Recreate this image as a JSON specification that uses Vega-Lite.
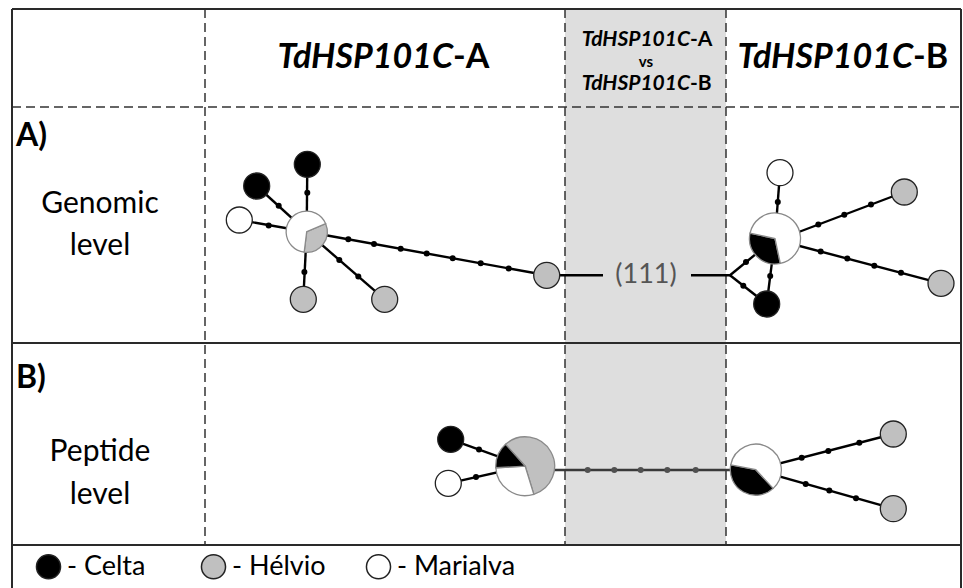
{
  "$schema": "https://vega.github.io/schema/vega-lite/v6.json",
  "width": 963,
  "height": 588,
  "padding": 0,
  "autosize": {"type": "none"},
  "background": "white",
  "config": {"view": {"stroke": null}, "font": "Lato"},
  "datasets": {
    "panels": [{"panel": "A vs B", "x0": 565, "x1": 726, "y0": 9, "y1": 545}],
    "grid": [
      {"kind": "frame", "x1": 12, "y1": 9, "x2": 961, "y2": 9},
      {"kind": "frame", "x1": 12, "y1": 9, "x2": 12, "y2": 588},
      {"kind": "frame", "x1": 961, "y1": 9, "x2": 961, "y2": 588},
      {"kind": "frame", "x1": 12, "y1": 343, "x2": 961, "y2": 343},
      {"kind": "frame", "x1": 12, "y1": 545, "x2": 961, "y2": 545},
      {"kind": "guide", "x1": 12, "y1": 107, "x2": 961, "y2": 107},
      {"kind": "guide", "x1": 205, "y1": 9, "x2": 205, "y2": 545},
      {"kind": "guide", "x1": 565, "y1": 9, "x2": 565, "y2": 545},
      {"kind": "guide", "x1": 726, "y1": 9, "x2": 726, "y2": 545}
    ],
    "links": [
      {"link": "GA0-GA1", "x1": 306.7, "y1": 231.7, "x2": 307.3, "y2": 164.3},
      {"link": "GA0-GA2", "x1": 306.7, "y1": 231.7, "x2": 256.7, "y2": 186},
      {"link": "GA0-GA3", "x1": 306.7, "y1": 231.7, "x2": 239.3, "y2": 220},
      {"link": "GA0-GA4", "x1": 306.7, "y1": 231.7, "x2": 303.3, "y2": 299.3},
      {"link": "GA0-GA5", "x1": 306.7, "y1": 231.7, "x2": 384.7, "y2": 299.3},
      {"link": "GA0-GA6", "x1": 306.7, "y1": 231.7, "x2": 546.7, "y2": 275.3},
      {"link": "GA6-J", "x1": 546.7, "y1": 275.3, "x2": 603, "y2": 275.3},
      {"link": "GA6-J", "x1": 691, "y1": 275.3, "x2": 730, "y2": 275.3},
      {"link": "J-GB0", "x1": 730, "y1": 275.3, "x2": 775, "y2": 238.3},
      {"link": "J-GB2", "x1": 730, "y1": 275.3, "x2": 766.7, "y2": 304},
      {"link": "GB2-GB0", "x1": 766.7, "y1": 304, "x2": 775, "y2": 238.3},
      {"link": "GB0-GB1", "x1": 775, "y1": 238.3, "x2": 780, "y2": 172.7},
      {"link": "GB0-GB3", "x1": 775, "y1": 241, "x2": 904.3, "y2": 192},
      {"link": "GB0-GB4", "x1": 775, "y1": 239.5, "x2": 941, "y2": 283.3},
      {"link": "PA0-PA1", "x1": 525.2, "y1": 466.2, "x2": 450.7, "y2": 439.3},
      {"link": "PA0-PA2", "x1": 525.2, "y1": 466.2, "x2": 448.3, "y2": 483.3},
      {"link": "PA0-PB0", "x1": 525.2, "y1": 470, "x2": 755.8, "y2": 470},
      {"link": "PB0-PB1", "x1": 755.8, "y1": 469.7, "x2": 893.3, "y2": 434},
      {"link": "PB0-PB2", "x1": 755.8, "y1": 469.7, "x2": 893.3, "y2": 508.7}
    ],
    "steps": [
      {"link": "GA0-GA1", "x": 307.3, "y": 192.7},
      {"link": "GA0-GA2", "x": 278.7, "y": 205.7},
      {"link": "GA0-GA3", "x": 268.7, "y": 225.5},
      {"link": "GA0-GA4", "x": 304.4, "y": 272},
      {"link": "GA0-GA5", "x": 339.3, "y": 260},
      {"link": "GA0-GA5", "x": 358.3, "y": 276.5},
      {"link": "GA0-GA6", "x": 348.3, "y": 239.3},
      {"link": "GA0-GA6", "x": 374, "y": 243.9},
      {"link": "GA0-GA6", "x": 400.7, "y": 248.8},
      {"link": "GA0-GA6", "x": 426.7, "y": 253.5},
      {"link": "GA0-GA6", "x": 452.7, "y": 258.2},
      {"link": "GA0-GA6", "x": 480.7, "y": 263.3},
      {"link": "GA0-GA6", "x": 508.7, "y": 268.4},
      {"link": "J-GB0", "x": 746, "y": 262},
      {"link": "J-GB2", "x": 743.3, "y": 285.7},
      {"link": "GB2-GB0", "x": 770.2, "y": 276},
      {"link": "GB0-GB1", "x": 777.8, "y": 202},
      {"link": "GB0-GB3", "x": 818.3, "y": 224.6},
      {"link": "GB0-GB3", "x": 844.3, "y": 214.7},
      {"link": "GB0-GB3", "x": 871, "y": 204.6},
      {"link": "GB0-GB4", "x": 820.7, "y": 251.6},
      {"link": "GB0-GB4", "x": 847.3, "y": 258.6},
      {"link": "GB0-GB4", "x": 874.3, "y": 265.7},
      {"link": "GB0-GB4", "x": 901, "y": 272.7},
      {"link": "PA0-PA1", "x": 479, "y": 449.5},
      {"link": "PA0-PA2", "x": 476, "y": 477},
      {"link": "PA0-PB0", "x": 587.7, "y": 470},
      {"link": "PA0-PB0", "x": 614.3, "y": 470},
      {"link": "PA0-PB0", "x": 640.7, "y": 470},
      {"link": "PA0-PB0", "x": 667.3, "y": 470},
      {"link": "PA0-PB0", "x": 695.7, "y": 470},
      {"link": "PB0-PB1", "x": 801.7, "y": 457.8},
      {"link": "PB0-PB1", "x": 828.3, "y": 450.9},
      {"link": "PB0-PB1", "x": 859.3, "y": 442.8},
      {"link": "PB0-PB2", "x": 805.7, "y": 483.9},
      {"link": "PB0-PB2", "x": 829.3, "y": 490.6},
      {"link": "PB0-PB2", "x": 856, "y": 498.3}
    ],
    "nodes": [
      {"node": "GA0", "x": 306.7, "y": 231.7, "N": 3, "hap": "Hélvio", "a0": 67, "a1": 187},
      {"node": "GA0", "x": 306.7, "y": 231.7, "N": 3, "hap": "Marialva", "a0": 187, "a1": 427},
      {"node": "GA1", "x": 307.3, "y": 164.3, "N": 1, "hap": "Celta", "a0": 0, "a1": 360},
      {"node": "GA2", "x": 256.7, "y": 186, "N": 1, "hap": "Celta", "a0": 0, "a1": 360},
      {"node": "GA3", "x": 239.3, "y": 220, "N": 1, "hap": "Marialva", "a0": 0, "a1": 360},
      {"node": "GA4", "x": 303.3, "y": 299.3, "N": 1, "hap": "Hélvio", "a0": 0, "a1": 360},
      {"node": "GA5", "x": 384.7, "y": 299.3, "N": 1, "hap": "Hélvio", "a0": 0, "a1": 360},
      {"node": "GA6", "x": 546.7, "y": 275.3, "N": 1, "hap": "Hélvio", "a0": 0, "a1": 360},
      {"node": "GB0", "x": 775, "y": 238.5, "N": 5, "hap": "Celta", "a0": 168, "a1": 282},
      {"node": "GB0", "x": 775, "y": 238.5, "N": 5, "hap": "Marialva", "a0": 282, "a1": 528},
      {"node": "GB1", "x": 780, "y": 172.7, "N": 1, "hap": "Marialva", "a0": 0, "a1": 360},
      {"node": "GB2", "x": 766.7, "y": 304, "N": 1, "hap": "Celta", "a0": 0, "a1": 360},
      {"node": "GB3", "x": 904.3, "y": 192, "N": 1, "hap": "Hélvio", "a0": 0, "a1": 360},
      {"node": "GB4", "x": 941, "y": 283.3, "N": 1, "hap": "Hélvio", "a0": 0, "a1": 360},
      {"node": "PA0", "x": 525.2, "y": 466.2, "N": 7, "hap": "Hélvio", "a0": 318, "a1": 523},
      {"node": "PA0", "x": 525.2, "y": 466.2, "N": 7, "hap": "Marialva", "a0": 163, "a1": 267},
      {"node": "PA0", "x": 525.2, "y": 466.2, "N": 7, "hap": "Celta", "a0": 267, "a1": 318},
      {"node": "PA1", "x": 450.7, "y": 439.3, "N": 1, "hap": "Celta", "a0": 0, "a1": 360},
      {"node": "PA2", "x": 448.3, "y": 483.3, "N": 1, "hap": "Marialva", "a0": 0, "a1": 360},
      {"node": "PB0", "x": 755.8, "y": 469.7, "N": 5, "hap": "Celta", "a0": 137, "a1": 281},
      {"node": "PB0", "x": 755.8, "y": 469.7, "N": 5, "hap": "Marialva", "a0": 281, "a1": 497},
      {"node": "PB1", "x": 893.3, "y": 434, "N": 1, "hap": "Hélvio", "a0": 0, "a1": 360},
      {"node": "PB2", "x": 893.3, "y": 508.7, "N": 1, "hap": "Hélvio", "a0": 0, "a1": 360}
    ],
    "labels": [
      {"role": "gene", "text": "TdHSP101C", "x": 453, "y": 58},
      {"role": "copy", "text": "-A", "x": 453, "y": 58},
      {"role": "gene", "text": "TdHSP101C", "x": 913, "y": 58},
      {"role": "copy", "text": "-B", "x": 913, "y": 58},
      {"role": "geneSmall", "text": "TdHSP101C", "x": 690, "y": 40},
      {"role": "copySmall", "text": "-A", "x": 690, "y": 40},
      {"role": "vs", "text": "vs", "x": 646, "y": 62},
      {"role": "geneSmall", "text": "TdHSP101C", "x": 690, "y": 84},
      {"role": "copySmall", "text": "-B", "x": 690, "y": 84},
      {"role": "tag", "text": "A)", "x": 16, "y": 136},
      {"role": "tag", "text": "B)", "x": 16, "y": 378},
      {"role": "level", "text": "Genomic", "x": 100, "y": 204},
      {"role": "level", "text": "level", "x": 100, "y": 246},
      {"role": "level", "text": "Peptide", "x": 100, "y": 452},
      {"role": "level", "text": "level", "x": 100, "y": 495},
      {"role": "mutations", "text": "(111)", "x": 646, "y": 275}
    ]
  },
  "layer": [
    {
      "data": {"name": "panels"},
      "mark": {"type": "rect", "color": "#dedede"},
      "encoding": {
        "x": {"field": "x0", "type": "quantitative", "scale": {"domain": [0, 963], "nice": false, "zero": false}, "axis": null},
        "x2": {"field": "x1"},
        "y": {"field": "y0", "type": "quantitative", "scale": {"domain": [0, 588], "nice": false, "zero": false, "reverse": true}, "axis": null},
        "y2": {"field": "y1"}
      }
    },
    {
      "data": {"name": "grid"},
      "transform": [{"filter": "datum.kind === 'guide'"}],
      "mark": {"type": "rule", "color": "#333333", "strokeWidth": 1.5, "strokeDash": [9, 5]},
      "encoding": {
        "x": {"field": "x1", "type": "quantitative", "axis": null},
        "x2": {"field": "x2"},
        "y": {"field": "y1", "type": "quantitative", "axis": null},
        "y2": {"field": "y2"}
      }
    },
    {
      "data": {"name": "grid"},
      "transform": [{"filter": "datum.kind === 'frame'"}],
      "mark": {"type": "rule", "color": "#2a2a2a", "strokeWidth": 2},
      "encoding": {
        "x": {"field": "x1", "type": "quantitative", "axis": null},
        "x2": {"field": "x2"},
        "y": {"field": "y1", "type": "quantitative", "axis": null},
        "y2": {"field": "y2"}
      }
    },
    {
      "data": {"name": "links"},
      "mark": {"type": "rule", "strokeWidth": 2.4},
      "encoding": {
        "x": {"field": "x1", "type": "quantitative", "axis": null},
        "x2": {"field": "x2"},
        "y": {"field": "y1", "type": "quantitative", "axis": null},
        "y2": {"field": "y2"},
        "color": {"condition": {"test": "datum.link === 'PA0-PB0'", "value": "#3a3a3a"}, "value": "#000000"}
      }
    },
    {
      "data": {"name": "steps"},
      "mark": {"type": "point", "shape": "circle", "filled": true, "size": 36, "opacity": 1},
      "encoding": {
        "x": {"field": "x", "type": "quantitative", "axis": null},
        "y": {"field": "y", "type": "quantitative", "axis": null},
        "color": {"condition": {"test": "datum.link === 'PA0-PB0'", "value": "#505050"}, "value": "#000000"}
      }
    },
    {
      "data": {"name": "nodes"},
      "mark": {"type": "arc"},
      "encoding": {
        "x": {"field": "x", "type": "quantitative", "axis": null},
        "y": {"field": "y", "type": "quantitative", "axis": null},
        "theta": {"field": "a0", "type": "quantitative", "scale": {"domain": [0, 360], "range": [0, 6.283185307179586]}},
        "theta2": {"field": "a1"},
        "radius": {"field": "N", "type": "quantitative", "scale": {"type": "pow", "exponent": 0.42, "domain": [0, 7], "range": [0, 29.4]}, "legend": null},
        "color": {
          "field": "hap",
          "type": "nominal",
          "scale": {"domain": ["Celta", "Hélvio", "Marialva"], "range": ["#000000", "#c0c0c0", "#ffffff"]},
          "legend": {
            "orient": "none",
            "legendX": 35,
            "legendY": 553,
            "direction": "horizontal",
            "columns": 3,
            "gridAlign": "all",
            "columnPadding": 12,
            "padding": 0,
            "title": null,
            "symbolType": "circle",
            "symbolSize": 580,
            "labelFont": "Lato",
            "labelFontSize": 27,
            "labelColor": "#000000",
            "labelOffset": 5,
            "labelLimit": 300,
            "labelExpr": "'- ' + datum.label",
            "encode": {"symbols": {"update": {"stroke": {"value": "#222222"}, "strokeWidth": {"value": 1.3}, "opacity": {"value": 1}}}}
          }
        },
        "stroke": {"condition": {"test": "datum.N > 1", "value": "#8a8a8a"}, "value": "#222222"},
        "strokeWidth": {"value": 1.3}
      }
    },
    {
      "data": {"name": "labels"},
      "transform": [{"filter": "datum.role === 'gene'"}],
      "mark": {"type": "text", "font": "Lato", "fontSize": 34, "fontWeight": "bold", "fontStyle": "italic", "align": "right", "baseline": "middle"},
      "encoding": {"x": {"field": "x", "type": "quantitative", "axis": null}, "y": {"field": "y", "type": "quantitative", "axis": null}, "text": {"field": "text"}}
    },
    {
      "data": {"name": "labels"},
      "transform": [{"filter": "datum.role === 'copy'"}],
      "mark": {"type": "text", "font": "Lato", "fontSize": 34, "fontWeight": "bold", "align": "left", "baseline": "middle"},
      "encoding": {"x": {"field": "x", "type": "quantitative", "axis": null}, "y": {"field": "y", "type": "quantitative", "axis": null}, "text": {"field": "text"}}
    },
    {
      "data": {"name": "labels"},
      "transform": [{"filter": "datum.role === 'geneSmall'"}],
      "mark": {"type": "text", "font": "Lato", "fontSize": 21, "fontWeight": "bold", "fontStyle": "italic", "align": "right", "baseline": "middle"},
      "encoding": {"x": {"field": "x", "type": "quantitative", "axis": null}, "y": {"field": "y", "type": "quantitative", "axis": null}, "text": {"field": "text"}}
    },
    {
      "data": {"name": "labels"},
      "transform": [{"filter": "datum.role === 'copySmall'"}],
      "mark": {"type": "text", "font": "Lato", "fontSize": 21, "fontWeight": "bold", "align": "left", "baseline": "middle"},
      "encoding": {"x": {"field": "x", "type": "quantitative", "axis": null}, "y": {"field": "y", "type": "quantitative", "axis": null}, "text": {"field": "text"}}
    },
    {
      "data": {"name": "labels"},
      "transform": [{"filter": "datum.role === 'vs'"}],
      "mark": {"type": "text", "font": "Lato", "fontSize": 15, "fontWeight": "bold", "align": "center", "baseline": "middle"},
      "encoding": {"x": {"field": "x", "type": "quantitative", "axis": null}, "y": {"field": "y", "type": "quantitative", "axis": null}, "text": {"field": "text"}}
    },
    {
      "data": {"name": "labels"},
      "transform": [{"filter": "datum.role === 'tag'"}],
      "mark": {"type": "text", "font": "Lato", "fontSize": 32, "fontWeight": "bold", "align": "left", "baseline": "middle"},
      "encoding": {"x": {"field": "x", "type": "quantitative", "axis": null}, "y": {"field": "y", "type": "quantitative", "axis": null}, "text": {"field": "text"}}
    },
    {
      "data": {"name": "labels"},
      "transform": [{"filter": "datum.role === 'level'"}],
      "mark": {"type": "text", "font": "Lato", "fontSize": 30, "align": "center", "baseline": "middle"},
      "encoding": {"x": {"field": "x", "type": "quantitative", "axis": null}, "y": {"field": "y", "type": "quantitative", "axis": null}, "text": {"field": "text"}}
    },
    {
      "data": {"name": "labels"},
      "transform": [{"filter": "datum.role === 'mutations'"}],
      "mark": {"type": "text", "font": "Lato", "fontSize": 27, "color": "#555555", "align": "center", "baseline": "middle"},
      "encoding": {"x": {"field": "x", "type": "quantitative", "axis": null}, "y": {"field": "y", "type": "quantitative", "axis": null}, "text": {"field": "text"}}
    }
  ]
}
